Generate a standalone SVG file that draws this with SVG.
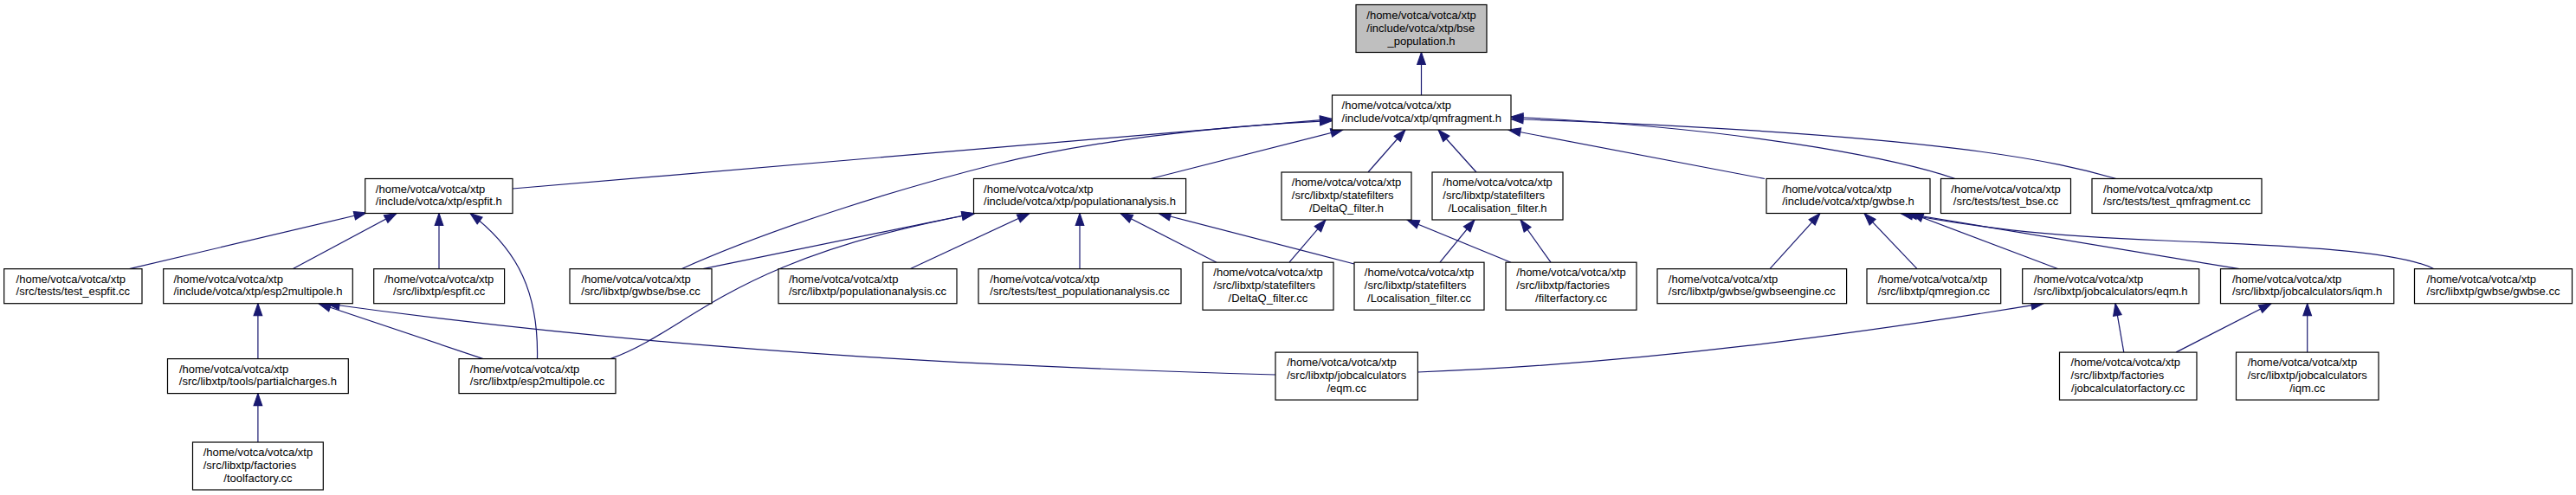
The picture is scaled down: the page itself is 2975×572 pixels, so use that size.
<svg xmlns="http://www.w3.org/2000/svg" width="2975" height="572" viewBox="0 0 2975 572">
<style>
.nd rect{fill:#ffffff;stroke:#000000;stroke-width:1.2}
.root rect{fill:#bfbfbf}
.nd text{font-family:"Liberation Sans",Arial,Helvetica,sans-serif;font-size:13px;fill:#000000}
.nd text.c{text-anchor:middle}
.e path{fill:none;stroke:#191970;stroke-width:1.2;marker-end:url(#arr)}
</style>
<defs>
<marker id="arr" markerUnits="userSpaceOnUse" markerWidth="14" markerHeight="11" viewBox="0 0 13 10" refX="13" refY="5" orient="auto" style="overflow:visible">
<path d="M0,0.5 L13,5 L0,9.5 z" fill="#191970" stroke="#191970" stroke-width="1"/>
</marker>
</defs>
<rect x="0" y="0" width="2975" height="572" fill="#ffffff"/>
<g id="edges" class="e">
<path d="M1641.5,110 L1641.5,60.5"/>
<path d="M592,218 L1538.5,137.5"/>
<path d="M787,310.7 C900,260 1050,215 1149,190 C1250,165 1400,145 1538.5,139.5"/>
<path d="M1329,206.5 L1551,150"/>
<path d="M1580,199 L1623,150"/>
<path d="M1705,199 L1661,150"/>
<path d="M2038,206.5 L1742,150"/>
<path d="M2258,206.5 C2210,190 2050,150 1745,135"/>
<path d="M2444,206.5 C2380,188 2250,155 1745,137.5"/>
<path d="M149.5,310.7 L423,246"/>
<path d="M338,310.7 L458,246.5"/>
<path d="M507,310.7 L507,246.5"/>
<path d="M620.5,414.6 C622,340 600,290 543,246.5"/>
<path d="M297.9,414.6 L297.9,350.7"/>
<path d="M558,414.6 L368,350.7"/>
<path d="M1473,433 C1200,425 800,410 378,351"/>
<path d="M812,310.7 L1125,246.5"/>
<path d="M705,414.6 C800,380 840,300 1125,247"/>
<path d="M1051,310.7 L1189,246.5"/>
<path d="M1247,310.7 L1247,246.5"/>
<path d="M1405,303.2 L1294,246.5"/>
<path d="M1564,305 L1338,246.5"/>
<path d="M1489,303.2 L1531,254"/>
<path d="M1745,303.2 L1625,254"/>
<path d="M1663,303.2 L1703,254"/>
<path d="M1791,303.2 L1756,254"/>
<path d="M2044,310.7 L2102,246.5"/>
<path d="M2214,310.7 L2153,246.5"/>
<path d="M2377,310.7 L2207,246.5"/>
<path d="M2586,310.7 L2200,246.5"/>
<path d="M2811,310.7 C2770,290 2650,284 2500,278 S2280,262 2195,246.5"/>
<path d="M1637.4,430 C1900,420 2150,385 2360,350.7"/>
<path d="M2452.8,407.1 L2443,350.7"/>
<path d="M2513,407.1 L2623,350.7"/>
<path d="M2664.7,407.1 L2664.7,350.7"/>
<path d="M297.9,511 L297.9,454.6"/>
</g>
<g id="n_bse_population" class="nd root"><rect x="1566" y="5.5" width="151" height="55"/><text x="1578.3" y="21.5">/home/votca/votca/xtp</text><text x="1578.3" y="36.5">/include/votca/xtp/bse</text><text class="c" x="1641.5" y="51.5">_population.h</text></g>
<g id="n_qmfragment_h" class="nd"><rect x="1538.5" y="110" width="206.5" height="40"/><text x="1549.6" y="126">/home/votca/votca/xtp</text><text class="c" x="1641.75" y="140.5">/include/votca/xtp/qmfragment.h</text></g>
<g id="n_espfit_h" class="nd"><rect x="421.7" y="206.5" width="170.3" height="40"/><text x="433.85" y="222.5">/home/votca/votca/xtp</text><text class="c" x="506.85" y="237">/include/votca/xtp/espfit.h</text></g>
<g id="n_populationanalysis_h" class="nd"><rect x="1124.5" y="206.5" width="245.1" height="40"/><text x="1136.1" y="222.5">/home/votca/votca/xtp</text><text class="c" x="1247" y="237">/include/votca/xtp/populationanalysis.h</text></g>
<g id="n_deltaq_filter_h" class="nd"><rect x="1480" y="199" width="150" height="55"/><text x="1491.8" y="215">/home/votca/votca/xtp</text><text x="1491.8" y="230">/src/libxtp/statefilters</text><text class="c" x="1555" y="245">/DeltaQ_filter.h</text></g>
<g id="n_localisation_filter_h" class="nd"><rect x="1654" y="199" width="151" height="55"/><text x="1666.3" y="215">/home/votca/votca/xtp</text><text x="1666.3" y="230">/src/libxtp/statefilters</text><text class="c" x="1729.5" y="245">/Localisation_filter.h</text></g>
<g id="n_gwbse_h" class="nd"><rect x="2040" y="206.5" width="189" height="40"/><text x="2058.3" y="222.5">/home/votca/votca/xtp</text><text class="c" x="2134.5" y="237">/include/votca/xtp/gwbse.h</text></g>
<g id="n_test_bse_cc" class="nd"><rect x="2241.5" y="206.5" width="150" height="40"/><text x="2253.3" y="222.5">/home/votca/votca/xtp</text><text class="c" x="2316.5" y="237">/src/tests/test_bse.cc</text></g>
<g id="n_test_qmfragment_cc" class="nd"><rect x="2416" y="206.5" width="196" height="40"/><text x="2429.1" y="222.5">/home/votca/votca/xtp</text><text class="c" x="2514" y="237">/src/tests/test_qmfragment.cc</text></g>
<g id="n_test_espfit_cc" class="nd"><rect x="4.7" y="310.7" width="159.3" height="40"/><text x="18.6" y="326.7">/home/votca/votca/xtp</text><text class="c" x="84.35" y="341.2">/src/tests/test_espfit.cc</text></g>
<g id="n_esp2multipole_h" class="nd"><rect x="188.7" y="310.7" width="218.6" height="40"/><text x="200.45" y="326.7">/home/votca/votca/xtp</text><text class="c" x="298" y="341.2">/include/votca/xtp/esp2multipole.h</text></g>
<g id="n_espfit_cc" class="nd"><rect x="431.7" y="310.7" width="150.9" height="40"/><text x="443.9" y="326.7">/home/votca/votca/xtp</text><text class="c" x="507.15" y="341.2">/src/libxtp/espfit.cc</text></g>
<g id="n_bse_cc" class="nd"><rect x="658" y="310.7" width="164" height="40"/><text x="671.4" y="326.7">/home/votca/votca/xtp</text><text class="c" x="740" y="341.2">/src/libxtp/gwbse/bse.cc</text></g>
<g id="n_populationanalysis_cc" class="nd"><rect x="899" y="310.7" width="206" height="40"/><text x="911" y="326.7">/home/votca/votca/xtp</text><text class="c" x="1002" y="341.2">/src/libxtp/populationanalysis.cc</text></g>
<g id="n_test_populationanalysis_cc" class="nd"><rect x="1130" y="310.7" width="234" height="40"/><text x="1143.3" y="326.7">/home/votca/votca/xtp</text><text class="c" x="1247" y="341.2">/src/tests/test_populationanalysis.cc</text></g>
<g id="n_deltaq_filter_cc" class="nd"><rect x="1389" y="303.2" width="151" height="55"/><text x="1401.3" y="319.2">/home/votca/votca/xtp</text><text x="1401.3" y="334.2">/src/libxtp/statefilters</text><text class="c" x="1464.5" y="349.2">/DeltaQ_filter.cc</text></g>
<g id="n_localisation_filter_cc" class="nd"><rect x="1564" y="303.2" width="150" height="55"/><text x="1575.8" y="319.2">/home/votca/votca/xtp</text><text x="1575.8" y="334.2">/src/libxtp/statefilters</text><text class="c" x="1639" y="349.2">/Localisation_filter.cc</text></g>
<g id="n_filterfactory_cc" class="nd"><rect x="1739" y="303.2" width="151" height="55"/><text x="1751.3" y="319.2">/home/votca/votca/xtp</text><text x="1751.3" y="334.2">/src/libxtp/factories</text><text class="c" x="1814.5" y="349.2">/filterfactory.cc</text></g>
<g id="n_gwbseengine_cc" class="nd"><rect x="1914" y="310.7" width="218.6" height="40"/><text x="1926.8" y="326.7">/home/votca/votca/xtp</text><text class="c" x="2023.3" y="341.2">/src/libxtp/gwbse/gwbseengine.cc</text></g>
<g id="n_qmregion_cc" class="nd"><rect x="2156" y="310.7" width="154.7" height="40"/><text x="2168.7" y="326.7">/home/votca/votca/xtp</text><text class="c" x="2233.35" y="341.2">/src/libxtp/qmregion.cc</text></g>
<g id="n_eqm_h" class="nd"><rect x="2335.7" y="310.7" width="204" height="40"/><text x="2348.8" y="326.7">/home/votca/votca/xtp</text><text class="c" x="2437.7" y="341.2">/src/libxtp/jobcalculators/eqm.h</text></g>
<g id="n_iqm_h" class="nd"><rect x="2564.5" y="310.7" width="200.2" height="40"/><text x="2577.9" y="326.7">/home/votca/votca/xtp</text><text class="c" x="2664.6" y="341.2">/src/libxtp/jobcalculators/iqm.h</text></g>
<g id="n_gwbse_cc" class="nd"><rect x="2788.5" y="310.7" width="182" height="40"/><text x="2802.6" y="326.7">/home/votca/votca/xtp</text><text class="c" x="2879.5" y="341.2">/src/libxtp/gwbse/gwbse.cc</text></g>
<g id="n_partialcharges_h" class="nd"><rect x="193.5" y="414.6" width="208.8" height="40"/><text x="206.9" y="430.6">/home/votca/votca/xtp</text><text class="c" x="297.9" y="445.1">/src/libxtp/tools/partialcharges.h</text></g>
<g id="n_esp2multipole_cc" class="nd"><rect x="530" y="414.6" width="181" height="40"/><text x="542.8" y="430.6">/home/votca/votca/xtp</text><text class="c" x="620.5" y="445.1">/src/libxtp/esp2multipole.cc</text></g>
<g id="n_eqm_cc" class="nd"><rect x="1473" y="407.1" width="164.4" height="55"/><text x="1486.2" y="423.1">/home/votca/votca/xtp</text><text x="1486.2" y="438.1">/src/libxtp/jobcalculators</text><text class="c" x="1555.2" y="453.1">/eqm.cc</text></g>
<g id="n_jobcalculatorfactory_cc" class="nd"><rect x="2378.5" y="407.1" width="158.5" height="55"/><text x="2391.6" y="423.1">/home/votca/votca/xtp</text><text x="2391.6" y="438.1">/src/libxtp/factories</text><text class="c" x="2457.75" y="453.1">/jobcalculatorfactory.cc</text></g>
<g id="n_iqm_cc" class="nd"><rect x="2582.5" y="407.1" width="164.5" height="55"/><text x="2595.75" y="423.1">/home/votca/votca/xtp</text><text x="2595.75" y="438.1">/src/libxtp/jobcalculators</text><text class="c" x="2664.75" y="453.1">/iqm.cc</text></g>
<g id="n_toolfactory_cc" class="nd"><rect x="222.5" y="511" width="150.8" height="55"/><text x="234.7" y="527">/home/votca/votca/xtp</text><text x="234.7" y="542">/src/libxtp/factories</text><text class="c" x="297.9" y="557">/toolfactory.cc</text></g>
</svg>
